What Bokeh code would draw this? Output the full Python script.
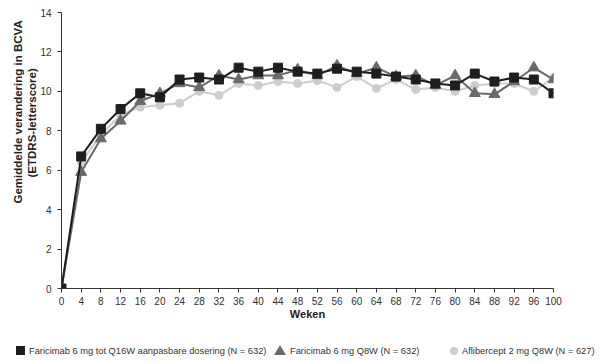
from bokeh.plotting import figure
from bokeh.models import Range1d, FixedTicker, Title, Div
from bokeh.layouts import column
from bokeh.embed import file_html
from bokeh.resources import INLINE

weeks = [0, 4, 8, 12, 16, 20, 24, 28, 32, 36, 40, 44, 48, 52, 56, 60, 64, 68, 72, 76, 80, 84, 88, 92, 96, 100]
faricimab_te = [0, 6.7, 8.1, 9.1, 9.9, 9.7, 10.6, 10.7, 10.6, 11.2, 11.0, 11.2, 11.0, 10.9, 11.15, 11.0, 10.9, 10.75, 10.6, 10.4, 10.3, 10.9, 10.5, 10.7, 10.6, 9.9]
faricimab_q8w = [0, 5.9, 7.6, 8.5, 9.5, 9.9, 10.4, 10.2, 10.8, 10.6, 10.8, 10.8, 11.1, 10.8, 11.3, 10.9, 11.2, 10.75, 10.8, 10.3, 10.8, 9.9, 9.85, 10.5, 11.2, 10.6]
aflibercept = [0, 6.4, 7.8, 8.8, 9.2, 9.3, 9.4, 10.0, 9.8, 10.4, 10.3, 10.5, 10.4, 10.55, 10.2, 10.75, 10.15, 10.6, 10.1, 10.2, 10.0, 10.3, 10.4, 10.4, 10.0, 10.7]

labels = ["Faricimab 6 mg tot Q16W aanpasbare dosering (N = 632)",
          "Faricimab 6 mg Q8W (N = 632)",
          "Aflibercept 2 mg Q8W (N = 627)"]
y_title = ["Gemiddelde verandering in BCVA", "(ETDRS-letterscore)"]
x_ticks = list(range(0, 101, 4))
y_ticks = list(range(0, 15, 2))

FONT = "Liberation Sans"
c_te, c_q8, c_af = "#1e1e1e", "#6a6a6a", "#cdcdcd"

p = figure(output_backend="svg", toolbar_location=None,
           frame_width=492, frame_height=276,
           x_range=Range1d(0, 100), y_range=Range1d(0, 14),
           min_border_left=61, min_border_top=12, min_border_right=34, min_border_bottom=36)
p.outline_line_color = None
p.xgrid.visible = False
p.ygrid.visible = False

p.line(weeks, aflibercept, line_color=c_af, line_width=2)
p.scatter(weeks, aflibercept, marker="circle", size=8, fill_color=c_af, line_color=c_af)
p.line(weeks, faricimab_q8w, line_color=c_q8, line_width=2)
p.scatter(weeks, faricimab_q8w, marker="triangle", size=11, fill_color=c_q8, line_color=c_q8)
p.line(weeks, faricimab_te, line_color=c_te, line_width=2)
p.scatter(weeks, faricimab_te, marker="square", size=9, fill_color=c_te, line_color=c_te)

for ax in (p.xaxis[0], p.yaxis[0]):
    ax.axis_line_color = "#333333"
    ax.major_tick_line_color = "#333333"
    ax.minor_tick_line_color = None
    ax.major_tick_in = 0
    ax.major_tick_out = 4
    ax.major_label_text_font = FONT
    ax.major_label_text_font_size = "10px"
    ax.major_label_text_color = "#333333"
    ax.axis_label_text_font = FONT
    ax.axis_label_text_font_size = "11px"
    ax.axis_label_text_font_style = "bold"
    ax.axis_label_text_color = "#222222"

p.xaxis.ticker = FixedTicker(ticks=x_ticks)
p.yaxis.ticker = FixedTicker(ticks=y_ticks)
p.xaxis.axis_label = "Weken"
p.xaxis.axis_label_standoff = 0
p.xaxis.major_label_standoff = 4
p.yaxis.major_label_standoff = 6

t2 = Title(text=y_title[1], align="left", offset=111, standoff=0, text_font=FONT,
           text_font_size="11.5px", text_font_style="bold", text_color="#222222")
t1 = Title(text=y_title[0], align="left", offset=85, standoff=0, text_font=FONT,
           text_font_size="11.5px", text_font_style="bold", text_color="#222222")
p.add_layout(t2, "left")
p.add_layout(t1, "left")

# legend strip
glyph_css = [
    "width:9px;height:9px;background:%s;top:22px;" % c_te,
    "width:0;height:0;border-left:6px solid transparent;border-right:6px solid transparent;"
    "border-bottom:10px solid %s;top:21px;" % c_q8,
    "width:8px;height:8px;border-radius:50%%;background:%s;top:23px;" % c_af,
]
glyph_left = [16, 274, 450]
label_left = [29, 290, 462]
parts = []
for i in range(3):
    parts.append('<span style="position:absolute;left:%dpx;%s"></span>' % (glyph_left[i], glyph_css[i]))
    parts.append('<span style="position:absolute;left:%dpx;top:21px;line-height:12px;'
                 'white-space:nowrap;">%s</span>' % (label_left[i], labels[i]))
html = ('<div style="position:relative;width:591px;height:39px;font-family:\'Liberation Sans\';'
        'font-size:9.3px;color:#333333;">' + "".join(parts) + '</div>')
legend_div = Div(text=html, width=591, height=39, margin=(0, 0, 0, 0))

layout = column(p, legend_div, spacing=0)
open("out.html", "w").write(file_html(layout, INLINE))
